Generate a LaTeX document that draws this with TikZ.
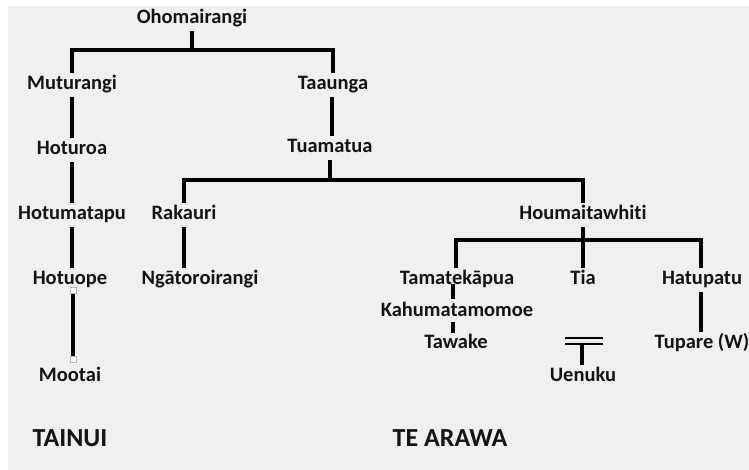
\documentclass[tikz,border=0pt]{standalone}
\usepackage{fontspec}
\setmainfont{Carlito}[Ligatures={NoCommon}]
\definecolor{bg}{HTML}{F0F0F0}
\begin{document}
\begin{tikzpicture}[x=1pt,y=-1pt,
  nm/.style={inner sep=0pt, outer xsep=0pt, outer ysep=3pt, text height=13.5pt, text depth=4.5pt,
    font=\fontsize{20.5}{23}\selectfont\bfseries, text=black!92},
  big/.style={inner sep=0pt, font=\fontsize{26}{28}\selectfont\bfseries, text=black!92},
  ln/.style={line width=4pt, black},
  thin/.style={line width=2.3pt, black},
  hnd/.style={draw=gray!55, fill=white, line width=1pt, minimum size=6pt, inner sep=0pt}]
\useasboundingbox (0,0) rectangle (749,470);
\fill[white] (0,0) rectangle (749,470);
\fill[bg] (8,6) rectangle (749,470);
% nodes
\node[nm] (ohom) at (192,19) {Ohomairangi};
\node[nm] (mut) at (72,85) {Muturangi};
\node[nm] (taa) at (333,85) {Taaunga};
\node[nm] (hotr) at (72,150) {Hoturoa};
\node[nm] (tua) at (330,148) {Tuamatua};
\node[nm] (hotm) at (72,215) {Hotumatapu};
\node[nm] (rak) at (184,215) {Rakauri};
\node[nm] (hou) at (583,215) {Houmaitawhiti};
\node[nm] (hotu) at (70,280) {Hotuope};
\node[nm] (nga) at (200,280) {Ngātoroirangi};
\node[nm] (tam) at (457,280) {Tamatekāpua};
\node[nm] (tia) at (583,280) {Tia};
\node[nm] (hat) at (702,280) {Hatupatu};
\node[nm] (kah) at (457,312) {Kahumatamomoe};
\node[nm] (taw) at (456,344) {Tawake};
\node[nm] (tup) at (702,344) {Tupare (W)};
\node[nm] (uen) at (583,377) {Uenuku};
\node[nm] (moo) at (70,377) {Mootai};
\node[big] (tainui) at (70,438) {TAINUI};
\node[big] (tearawa) at (450,438) {TE ARAWA};
% junction coordinates
\coordinate (j1) at (192,50);
\coordinate (j2) at (330,180);
\coordinate (j3) at (583,240);
\coordinate (tiab) at (582,344);
% connectors
\draw[ln] (ohom.south) -- (j1);
\draw[ln] (mut.north) |- (j1) -| (taa.north);
\draw[ln] (mut) -- (hotr);
\draw[ln] (hotr) -- (hotm);
\draw[ln] (hotm.south -| 72,0) -- (hotu.north -| 72,0);
\draw[ln] (taa.south -| 332,0) -- (tua.north -| 332,0);
\draw[ln] (tua.south) -- (j2);
\draw[ln] (rak.north) |- (j2) -| (hou.north);
\draw[ln] (rak.south) -- (rak.south |- nga.north);
\draw[ln] (hou.south) -- (j3);
\draw[ln] ([xshift=-1pt]tam.north) |- (j3) -| ([xshift=-1pt]hat.north);
\draw[ln] (j3) -- (tia.north);
\draw[ln] ([yshift=8pt]tam.south -| 453,0) -- ([yshift=1pt]kah.north -| 453,0);
\draw[ln] ([yshift=2pt]kah.south -| 453,0) -- ([yshift=-1pt]taw.north -| 453,0);
\draw[ln] (hat.south -| 701,0) -- (tup.north -| 701,0);
\draw[thin] (565,338) -- (603,338);
\draw[thin] (565,344) -- (603,344);
\draw[ln] (tiab) -- (tiab |- uen.north);
% Mootai connector with handles
\coordinate (ma) at (73,290);
\coordinate (mb) at (73,359);
\draw[ln] (ma) -- (mb);
\node[hnd] at (ma) {};
\node[hnd] at (mb) {};
\end{tikzpicture}
\end{document}
